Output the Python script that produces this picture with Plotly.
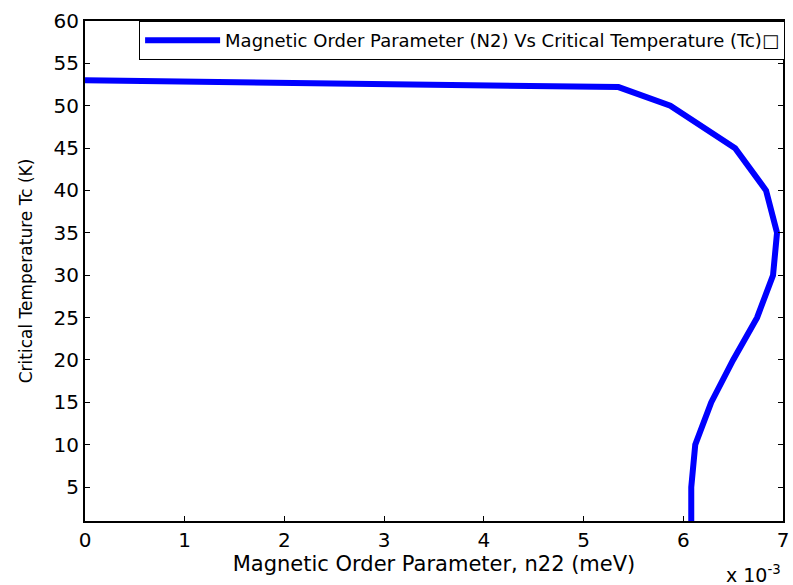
import plotly.graph_objects as go

# Data (x in meV, y in K)
n22 = [6.08e-3, 6.08e-3, 6.12e-3, 6.28e-3, 6.50e-3, 6.74e-3, 6.90e-3,
       6.94e-3, 6.83e-3, 6.52e-3, 5.87e-3, 5.35e-3, 0.0]
tc = [1, 5, 10, 15, 20, 25, 30, 35, 40, 45, 50, 52.2, 53]

x_tickvals = [0, 1e-3, 2e-3, 3e-3, 4e-3, 5e-3, 6e-3, 7e-3]
x_ticktext = ["0", "1", "2", "3", "4", "5", "6", "7"]
y_tickvals = [5, 10, 15, 20, 25, 30, 35, 40, 45, 50, 55, 60]

legend_name = "Magnetic Order Parameter (N2) Vs Critical Temperature (Tc)\u25a1"
FONT = "'DejaVu Sans', Arial, sans-serif"

fig = go.Figure()
fig.add_trace(go.Scatter(
    x=n22, y=tc, mode="lines", name=legend_name,
    line=dict(color="#0000FF", width=6),
))

axis_common = dict(
    showline=True, linecolor="black", linewidth=2, mirror="ticks",
    ticks="inside", ticklen=5, tickwidth=1, tickcolor="black",
    showgrid=False, zeroline=False, automargin=False,
    tickfont=dict(family=FONT, size=20, color="black"),
)

fig.update_layout(
    width=793, height=585,
    margin=dict(l=85, r=8, t=21, b=64),
    paper_bgcolor="white", plot_bgcolor="white",
    font=dict(family=FONT, color="black"),
    showlegend=True,
    legend=dict(
        x=1.003, xanchor="right", y=1, yanchor="top",
        bordercolor="black", borderwidth=1, bgcolor="white",
        font=dict(family=FONT, size=18, color="black"),
        itemwidth=75,
    ),
    xaxis=dict(
        range=[0, 7e-3], tickvals=x_tickvals, ticktext=x_ticktext,
        title=dict(text="Magnetic Order Parameter, n22 (meV)",
                   font=dict(family=FONT, size=21, color="black"), standoff=5),
        **axis_common,
    ),
    yaxis=dict(
        range=[1, 60], tickvals=y_tickvals,
        title=dict(text="Critical Temperature Tc (K)",
                   font=dict(family=FONT, size=17, color="black"), standoff=17),
        **axis_common,
    ),
)

fig.add_annotation(
    x=1, xref="paper", xanchor="right",
    y=(585 - 64 - 574) / (585 - 21 - 64), yref="paper", yanchor="middle",
    text="x 10<sup>-3</sup>", showarrow=False,
    font=dict(family=FONT, size=19, color="black"),
)

fig.write_html("out.html")
